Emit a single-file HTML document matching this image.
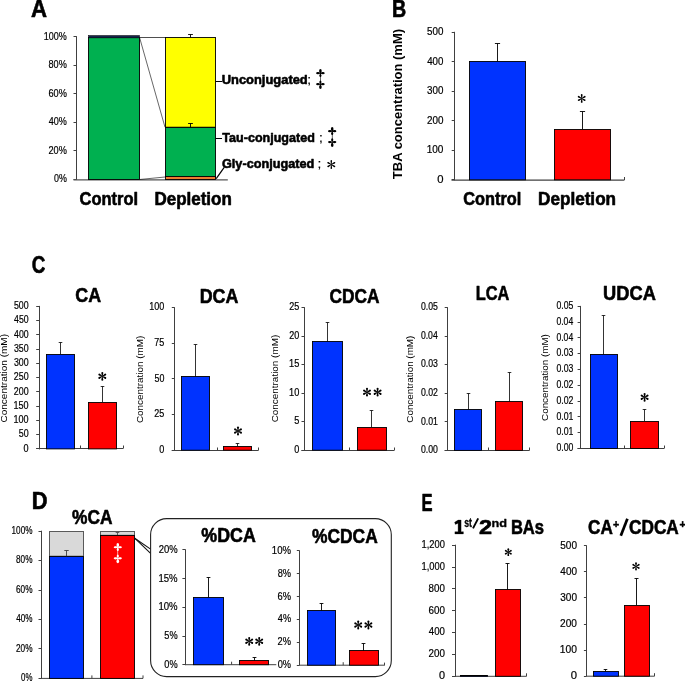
<!DOCTYPE html>
<html><head><meta charset="utf-8"><style>
html,body{margin:0;padding:0;background:#fff;}
svg{display:block;will-change:transform;}
text{font-family:"Liberation Sans",sans-serif;}
</style></head><body>
<svg width="685" height="682" viewBox="0 0 685 682">
<rect width="685" height="682" fill="#fff"/>
<text transform="translate(31.05,16.50) scale(0.9871,1.0401)" font-size="22.50" font-weight="bold" fill="#000" stroke="#000" stroke-width="0.6" stroke-linejoin="round">A</text>
<line x1="76.5" y1="36.2" x2="76.5" y2="180.0" stroke="#404040" stroke-width="1"/>
<line x1="73.5" y1="179.5" x2="76.5" y2="179.5" stroke="#404040" stroke-width="1"/>
<text transform="translate(53.95,182.30) scale(0.8642,1)" font-size="10.30" font-weight="normal" fill="#000" stroke="#000" stroke-width="0.2">0%</text>
<line x1="73.5" y1="150.5" x2="76.5" y2="150.5" stroke="#404040" stroke-width="1"/>
<text transform="translate(48.44,153.74) scale(0.8920,1)" font-size="10.30" font-weight="normal" fill="#000" stroke="#000" stroke-width="0.2">20%</text>
<line x1="73.5" y1="122.5" x2="76.5" y2="122.5" stroke="#404040" stroke-width="1"/>
<text transform="translate(48.69,125.18) scale(0.8795,1)" font-size="10.30" font-weight="normal" fill="#000" stroke="#000" stroke-width="0.2">40%</text>
<line x1="73.5" y1="93.5" x2="76.5" y2="93.5" stroke="#404040" stroke-width="1"/>
<text transform="translate(48.43,96.62) scale(0.8923,1)" font-size="10.30" font-weight="normal" fill="#000" stroke="#000" stroke-width="0.2">60%</text>
<line x1="73.5" y1="65.5" x2="76.5" y2="65.5" stroke="#404040" stroke-width="1"/>
<text transform="translate(48.50,68.06) scale(0.8889,1)" font-size="10.30" font-weight="normal" fill="#000" stroke="#000" stroke-width="0.2">80%</text>
<line x1="73.5" y1="36.5" x2="76.5" y2="36.5" stroke="#404040" stroke-width="1"/>
<text transform="translate(43.81,39.50) scale(0.8733,1)" font-size="10.30" font-weight="normal" fill="#000" stroke="#000" stroke-width="0.2">100%</text>
<line x1="73.5" y1="179.8" x2="227.8" y2="179.8" stroke="#555" stroke-width="1.3"/>
<line x1="139.6" y1="37.5" x2="165" y2="37.5" stroke="#222" stroke-width="0.8"/>
<line x1="139.6" y1="37.6" x2="165" y2="127.2" stroke="#000" stroke-width="0.6"/>
<line x1="139.6" y1="179.5" x2="165" y2="177.0" stroke="#000" stroke-width="0.6"/>
<rect x="88.50" y="37.50" width="51.00" height="142.00" fill="#00B050" stroke="#000" stroke-width="0.9"/>
<rect x="88.50" y="35.50" width="51.00" height="2.40" fill="#15244a" stroke="#000" stroke-width="0.5"/>
<rect x="165.50" y="37.50" width="50.00" height="89.70" fill="#FFFF00" stroke="#000" stroke-width="0.9"/>
<rect x="165.50" y="127.50" width="50.00" height="49.30" fill="#00B050" stroke="#000" stroke-width="0.9"/>
<rect x="165.50" y="176.50" width="50.00" height="3.00" fill="#ED7D31" stroke="#000" stroke-width="0.9"/>
<line x1="190.5" y1="37.4" x2="190.5" y2="34.5" stroke="#000" stroke-width="0.9"/>
<line x1="188.1" y1="34.5" x2="192.9" y2="34.5" stroke="#000" stroke-width="0.9"/>
<line x1="190.5" y1="127.2" x2="190.5" y2="123.5" stroke="#000" stroke-width="0.9"/>
<line x1="188.1" y1="123.5" x2="192.9" y2="123.5" stroke="#000" stroke-width="0.9"/>
<line x1="215.6" y1="81.5" x2="222.0" y2="81.5" stroke="#000" stroke-width="1.0"/>
<line x1="215.6" y1="138.5" x2="222.0" y2="138.5" stroke="#000" stroke-width="1.0"/>
<line x1="216.2" y1="178.6" x2="224.2" y2="167.3" stroke="#000" stroke-width="1.2"/>
<text transform="translate(221.72,84.30) scale(0.9500,1)" font-size="13.60" font-weight="bold" fill="#000" stroke="#000" stroke-width="0.6" stroke-linejoin="round">Unconjugated</text>
<text transform="translate(307.18,84.30) scale(1.0000,1)" font-size="13.60" font-weight="normal" fill="#000" stroke="#000" stroke-width="0.2">;</text>
<g fill="#000" stroke="none">
<rect x="319.95" y="70.00" width="0.90" height="4.70"/>
<rect x="319.95" y="83.70" width="0.90" height="4.30"/>
<rect x="320.10" y="73.20" width="0.60" height="11.00"/>
<ellipse cx="320.40" cy="70.90" rx="1.30" ry="2.00"/>
<ellipse cx="320.40" cy="87.10" rx="1.30" ry="2.00"/>
<ellipse cx="317.90" cy="73.20" rx="1.80" ry="1.10"/>
<ellipse cx="322.90" cy="73.20" rx="1.80" ry="1.10"/>
<ellipse cx="317.90" cy="84.20" rx="1.80" ry="1.10"/>
<ellipse cx="322.90" cy="84.20" rx="1.80" ry="1.10"/>
<ellipse cx="320.40" cy="75.50" rx="1.05" ry="1.50"/>
<ellipse cx="320.40" cy="81.90" rx="1.05" ry="1.50"/>
<rect x="317.20" y="72.70" width="6.40" height="1.00"/>
<rect x="317.20" y="83.70" width="6.40" height="1.00"/>
</g>
<text transform="translate(222.36,142.00) scale(0.9232,1)" font-size="13.60" font-weight="bold" fill="#000" stroke="#000" stroke-width="0.6" stroke-linejoin="round">Tau-conjugated</text>
<text transform="translate(318.98,142.00) scale(1.0000,1)" font-size="13.60" font-weight="normal" fill="#000" stroke="#000" stroke-width="0.2">;</text>
<g fill="#000" stroke="none">
<rect x="331.75" y="128.00" width="0.90" height="4.68"/>
<rect x="331.75" y="141.62" width="0.90" height="4.28"/>
<rect x="331.90" y="131.18" width="0.60" height="10.94"/>
<ellipse cx="332.20" cy="128.90" rx="1.30" ry="2.00"/>
<ellipse cx="332.20" cy="145.00" rx="1.30" ry="2.00"/>
<ellipse cx="329.80" cy="131.18" rx="1.80" ry="1.10"/>
<ellipse cx="334.60" cy="131.18" rx="1.80" ry="1.10"/>
<ellipse cx="329.80" cy="142.12" rx="1.80" ry="1.10"/>
<ellipse cx="334.60" cy="142.12" rx="1.80" ry="1.10"/>
<ellipse cx="332.20" cy="133.48" rx="1.05" ry="1.50"/>
<ellipse cx="332.20" cy="139.82" rx="1.05" ry="1.50"/>
<rect x="329.10" y="130.68" width="6.20" height="1.00"/>
<rect x="329.10" y="141.62" width="6.20" height="1.00"/>
</g>
<text transform="translate(221.98,167.80) scale(0.9341,1)" font-size="13.60" font-weight="bold" fill="#000" stroke="#000" stroke-width="0.6" stroke-linejoin="round">Gly-conjugated</text>
<text transform="translate(317.38,167.80) scale(1.0000,1)" font-size="13.60" font-weight="normal" fill="#000" stroke="#000" stroke-width="0.2">;</text>
<g fill="#000">
<path d="M331.60,164.60 L332.08,160.88 A0.78,0.78 0 1 0 330.52,160.88 L331.00,164.60 Z"/>
<path d="M331.45,164.86 L334.91,163.42 A0.78,0.78 0 1 0 334.13,162.06 L331.15,164.34 Z"/>
<path d="M331.15,164.86 L334.13,167.14 A0.78,0.78 0 1 0 334.91,165.78 L331.45,164.34 Z"/>
<path d="M331.00,164.60 L330.52,168.32 A0.78,0.78 0 1 0 332.08,168.32 L331.60,164.60 Z"/>
<path d="M331.15,164.34 L327.69,165.78 A0.78,0.78 0 1 0 328.47,167.14 L331.45,164.86 Z"/>
<path d="M331.45,164.34 L328.47,162.06 A0.78,0.78 0 1 0 327.69,163.42 L331.15,164.86 Z"/>
</g>
<text transform="translate(79.52,205.20) scale(0.9374,1)" font-size="17.60" font-weight="bold" fill="#000" stroke="#000" stroke-width="0.6" stroke-linejoin="round">Control</text>
<text transform="translate(154.46,205.20) scale(0.9652,1)" font-size="17.60" font-weight="bold" fill="#000" stroke="#000" stroke-width="0.6" stroke-linejoin="round">Depletion</text>
<text transform="translate(391.98,16.60) scale(0.8745,1.0401)" font-size="22.50" font-weight="bold" fill="#000" stroke="#000" stroke-width="0.6" stroke-linejoin="round">B</text>
<line x1="454.5" y1="31.799999999999997" x2="454.5" y2="180.3" stroke="#404040" stroke-width="1"/>
<line x1="451.7" y1="179.5" x2="454.5" y2="179.5" stroke="#404040" stroke-width="1"/>
<text transform="translate(437.16,182.56) scale(1.1075,1)" font-size="10.20" font-weight="normal" fill="#000" stroke="#000" stroke-width="0.2">0</text>
<line x1="451.7" y1="150.5" x2="454.5" y2="150.5" stroke="#404040" stroke-width="1"/>
<text transform="translate(426.63,153.06) scale(0.9847,1)" font-size="10.20" font-weight="normal" fill="#000" stroke="#000" stroke-width="0.2">100</text>
<line x1="451.7" y1="120.5" x2="454.5" y2="120.5" stroke="#404040" stroke-width="1"/>
<text transform="translate(426.90,123.56) scale(0.9685,1)" font-size="10.20" font-weight="normal" fill="#000" stroke="#000" stroke-width="0.2">200</text>
<line x1="451.7" y1="91.5" x2="454.5" y2="91.5" stroke="#404040" stroke-width="1"/>
<text transform="translate(427.03,94.06) scale(0.9611,1)" font-size="10.20" font-weight="normal" fill="#000" stroke="#000" stroke-width="0.2">300</text>
<line x1="451.7" y1="61.5" x2="454.5" y2="61.5" stroke="#404040" stroke-width="1"/>
<text transform="translate(427.18,64.56) scale(0.9520,1)" font-size="10.20" font-weight="normal" fill="#000" stroke="#000" stroke-width="0.2">400</text>
<line x1="451.7" y1="32.5" x2="454.5" y2="32.5" stroke="#404040" stroke-width="1"/>
<text transform="translate(427.01,35.06) scale(0.9623,1)" font-size="10.20" font-weight="normal" fill="#000" stroke="#000" stroke-width="0.2">500</text>
<line x1="451.5" y1="180.2" x2="624.2" y2="180.2" stroke="#404040" stroke-width="1.2"/>
<line x1="624.5" y1="180.2" x2="624.5" y2="177.0" stroke="#404040" stroke-width="1"/>
<rect x="469.50" y="61.50" width="56.00" height="118.30" fill="#0033FF" stroke="#000" stroke-width="0.9"/>
<line x1="497.5" y1="61.2" x2="497.5" y2="43.5" stroke="#000" stroke-width="0.9"/>
<line x1="494.9" y1="43.5" x2="500.1" y2="43.5" stroke="#000" stroke-width="0.9"/>
<rect x="554.50" y="129.50" width="56.00" height="50.30" fill="#FF0000" stroke="#000" stroke-width="0.9"/>
<line x1="582.5" y1="129.2" x2="582.5" y2="111.5" stroke="#000" stroke-width="0.9"/>
<line x1="579.9" y1="111.5" x2="585.1" y2="111.5" stroke="#000" stroke-width="0.9"/>
<g fill="#000">
<path d="M582.00,98.40 L582.58,94.88 A0.88,0.88 0 1 0 580.82,94.88 L581.40,98.40 Z"/>
<path d="M581.85,98.66 L585.19,97.41 A0.88,0.88 0 1 0 584.30,95.88 L581.55,98.14 Z"/>
<path d="M581.55,98.66 L584.30,100.92 A0.88,0.88 0 1 0 585.19,99.39 L581.85,98.14 Z"/>
<path d="M581.40,98.40 L580.82,101.92 A0.88,0.88 0 1 0 582.58,101.92 L582.00,98.40 Z"/>
<path d="M581.55,98.14 L578.21,99.39 A0.88,0.88 0 1 0 579.10,100.92 L581.85,98.66 Z"/>
<path d="M581.85,98.14 L579.10,95.88 A0.88,0.88 0 1 0 578.21,97.41 L581.55,98.66 Z"/>
</g>
<text transform="translate(402.00,179.15) rotate(-90) scale(0.9845,1)" font-size="13.20" font-weight="bold" fill="#000">TBA concentration (mM)</text>
<text transform="translate(463.33,205.00) scale(0.9275,1)" font-size="17.60" font-weight="bold" fill="#000" stroke="#000" stroke-width="0.6" stroke-linejoin="round">Control</text>
<text transform="translate(538.05,205.00) scale(0.9729,1)" font-size="17.60" font-weight="bold" fill="#000" stroke="#000" stroke-width="0.6" stroke-linejoin="round">Depletion</text>
<text transform="translate(31.73,273.46) scale(0.8361,1.0734)" font-size="22.50" font-weight="bold" fill="#000" stroke="#000" stroke-width="0.6" stroke-linejoin="round">C</text>
<text transform="translate(75.27,301.70) scale(0.8933,1)" font-size="20.00" font-weight="bold" fill="#000" stroke="#000" stroke-width="0.6" stroke-linejoin="round">CA</text>
<line x1="39.5" y1="305.9" x2="39.5" y2="449.4" stroke="#404040" stroke-width="1"/>
<line x1="36.2" y1="448.5" x2="39.5" y2="448.5" stroke="#404040" stroke-width="1"/>
<text transform="translate(23.59,451.59) scale(0.9100,1)" font-size="10.00" font-weight="normal" fill="#000" stroke="#000" stroke-width="0.2">0</text>
<line x1="36.2" y1="434.5" x2="39.5" y2="434.5" stroke="#404040" stroke-width="1"/>
<text transform="translate(18.74,437.34) scale(0.8904,1)" font-size="10.00" font-weight="normal" fill="#000" stroke="#000" stroke-width="0.2">50</text>
<line x1="36.2" y1="420.5" x2="39.5" y2="420.5" stroke="#404040" stroke-width="1"/>
<text transform="translate(13.56,423.09) scale(0.9046,1)" font-size="10.00" font-weight="normal" fill="#000" stroke="#000" stroke-width="0.2">100</text>
<line x1="36.2" y1="406.5" x2="39.5" y2="406.5" stroke="#404040" stroke-width="1"/>
<text transform="translate(13.56,408.84) scale(0.9046,1)" font-size="10.00" font-weight="normal" fill="#000" stroke="#000" stroke-width="0.2">150</text>
<line x1="36.2" y1="391.5" x2="39.5" y2="391.5" stroke="#404040" stroke-width="1"/>
<text transform="translate(13.80,394.59) scale(0.8897,1)" font-size="10.00" font-weight="normal" fill="#000" stroke="#000" stroke-width="0.2">200</text>
<line x1="36.2" y1="377.5" x2="39.5" y2="377.5" stroke="#404040" stroke-width="1"/>
<text transform="translate(13.80,380.34) scale(0.8897,1)" font-size="10.00" font-weight="normal" fill="#000" stroke="#000" stroke-width="0.2">250</text>
<line x1="36.2" y1="363.5" x2="39.5" y2="363.5" stroke="#404040" stroke-width="1"/>
<text transform="translate(13.91,366.09) scale(0.8829,1)" font-size="10.00" font-weight="normal" fill="#000" stroke="#000" stroke-width="0.2">300</text>
<line x1="36.2" y1="349.5" x2="39.5" y2="349.5" stroke="#404040" stroke-width="1"/>
<text transform="translate(13.91,351.84) scale(0.8829,1)" font-size="10.00" font-weight="normal" fill="#000" stroke="#000" stroke-width="0.2">350</text>
<line x1="36.2" y1="334.5" x2="39.5" y2="334.5" stroke="#404040" stroke-width="1"/>
<text transform="translate(14.05,337.59) scale(0.8746,1)" font-size="10.00" font-weight="normal" fill="#000" stroke="#000" stroke-width="0.2">400</text>
<line x1="36.2" y1="320.5" x2="39.5" y2="320.5" stroke="#404040" stroke-width="1"/>
<text transform="translate(14.05,323.34) scale(0.8746,1)" font-size="10.00" font-weight="normal" fill="#000" stroke="#000" stroke-width="0.2">450</text>
<line x1="36.2" y1="306.5" x2="39.5" y2="306.5" stroke="#404040" stroke-width="1"/>
<text transform="translate(13.90,309.09) scale(0.8840,1)" font-size="10.00" font-weight="normal" fill="#000" stroke="#000" stroke-width="0.2">500</text>
<line x1="36.2" y1="448.5" x2="123.2" y2="448.5" stroke="#404040" stroke-width="1.1"/>
<line x1="80.5" y1="448.5" x2="80.5" y2="445.5" stroke="#404040" stroke-width="1"/>
<line x1="123.5" y1="448.5" x2="123.5" y2="445.5" stroke="#404040" stroke-width="1"/>
<rect x="46.50" y="354.50" width="28.00" height="94.40" fill="#0033FF" stroke="#000" stroke-width="0.9"/>
<line x1="60.5" y1="354.1" x2="60.5" y2="342.5" stroke="#000" stroke-width="0.8"/>
<line x1="58.7" y1="342.5" x2="62.3" y2="342.5" stroke="#000" stroke-width="0.8"/>
<rect x="88.50" y="402.50" width="28.00" height="46.40" fill="#FF0000" stroke="#000" stroke-width="0.9"/>
<line x1="102.5" y1="402.0" x2="102.5" y2="386.5" stroke="#000" stroke-width="0.8"/>
<line x1="100.7" y1="386.5" x2="104.3" y2="386.5" stroke="#000" stroke-width="0.8"/>
<text transform="translate(6.60,422.51) rotate(-90) scale(1.1271,1)" font-size="8.90" font-weight="normal" fill="#000">Concentration (mM)</text>
<g fill="#000">
<path d="M102.60,376.30 L103.31,372.91 A1.01,1.01 0 1 0 101.29,372.91 L102.00,376.30 Z"/>
<path d="M102.45,376.56 L105.74,375.49 A1.01,1.01 0 1 0 104.73,373.73 L102.15,376.04 Z"/>
<path d="M102.15,376.56 L104.73,378.87 A1.01,1.01 0 1 0 105.74,377.11 L102.45,376.04 Z"/>
<path d="M102.00,376.30 L101.29,379.69 A1.01,1.01 0 1 0 103.31,379.69 L102.60,376.30 Z"/>
<path d="M102.15,376.04 L98.86,377.11 A1.01,1.01 0 1 0 99.87,378.87 L102.45,376.56 Z"/>
<path d="M102.45,376.04 L99.87,373.73 A1.01,1.01 0 1 0 98.86,375.49 L102.15,376.56 Z"/>
</g>
<text transform="translate(199.70,303.20) scale(0.8947,1)" font-size="20.00" font-weight="bold" fill="#000" stroke="#000" stroke-width="0.6" stroke-linejoin="round">DCA</text>
<line x1="174.5" y1="307.2" x2="174.5" y2="450.7" stroke="#404040" stroke-width="1"/>
<line x1="171.79999999999998" y1="450.5" x2="174.5" y2="450.5" stroke="#404040" stroke-width="1"/>
<text transform="translate(159.29,452.89) scale(0.9100,1)" font-size="10.00" font-weight="normal" fill="#000" stroke="#000" stroke-width="0.2">0</text>
<line x1="171.79999999999998" y1="414.5" x2="174.5" y2="414.5" stroke="#404040" stroke-width="1"/>
<text transform="translate(154.35,417.26) scale(0.9019,1)" font-size="10.00" font-weight="normal" fill="#000" stroke="#000" stroke-width="0.2">25</text>
<line x1="171.79999999999998" y1="378.5" x2="174.5" y2="378.5" stroke="#404040" stroke-width="1"/>
<text transform="translate(154.44,381.64) scale(0.8904,1)" font-size="10.00" font-weight="normal" fill="#000" stroke="#000" stroke-width="0.2">50</text>
<line x1="171.79999999999998" y1="343.5" x2="174.5" y2="343.5" stroke="#404040" stroke-width="1"/>
<text transform="translate(154.34,346.01) scale(0.9028,1)" font-size="10.00" font-weight="normal" fill="#000" stroke="#000" stroke-width="0.2">75</text>
<line x1="171.79999999999998" y1="307.5" x2="174.5" y2="307.5" stroke="#404040" stroke-width="1"/>
<text transform="translate(149.26,310.39) scale(0.9046,1)" font-size="10.00" font-weight="normal" fill="#000" stroke="#000" stroke-width="0.2">100</text>
<line x1="171.79999999999998" y1="450.5" x2="258.3" y2="450.5" stroke="#404040" stroke-width="1.1"/>
<line x1="217.5" y1="450.5" x2="217.5" y2="447.5" stroke="#404040" stroke-width="1"/>
<line x1="258.5" y1="450.5" x2="258.5" y2="447.5" stroke="#404040" stroke-width="1"/>
<rect x="181.50" y="376.50" width="28.00" height="73.70" fill="#0033FF" stroke="#000" stroke-width="0.9"/>
<line x1="195.5" y1="376.4" x2="195.5" y2="344.5" stroke="#000" stroke-width="0.8"/>
<line x1="193.7" y1="344.5" x2="197.3" y2="344.5" stroke="#000" stroke-width="0.8"/>
<rect x="223.50" y="446.50" width="28.00" height="3.70" fill="#FF0000" stroke="#000" stroke-width="0.9"/>
<line x1="237.5" y1="446.4" x2="237.5" y2="443.5" stroke="#000" stroke-width="0.8"/>
<line x1="235.7" y1="443.5" x2="239.3" y2="443.5" stroke="#000" stroke-width="0.8"/>
<text transform="translate(143.00,423.10) rotate(-90) scale(1.1155,1)" font-size="8.90" font-weight="normal" fill="#000">Concentration (mM)</text>
<g fill="#000">
<path d="M238.30,431.00 L239.01,427.61 A1.01,1.01 0 1 0 236.99,427.61 L237.70,431.00 Z"/>
<path d="M238.15,431.26 L241.44,430.19 A1.01,1.01 0 1 0 240.43,428.43 L237.85,430.74 Z"/>
<path d="M237.85,431.26 L240.43,433.57 A1.01,1.01 0 1 0 241.44,431.81 L238.15,430.74 Z"/>
<path d="M237.70,431.00 L236.99,434.39 A1.01,1.01 0 1 0 239.01,434.39 L238.30,431.00 Z"/>
<path d="M237.85,430.74 L234.56,431.81 A1.01,1.01 0 1 0 235.57,433.57 L238.15,431.26 Z"/>
<path d="M238.15,430.74 L235.57,428.43 A1.01,1.01 0 1 0 234.56,430.19 L237.85,431.26 Z"/>
</g>
<text transform="translate(329.49,303.20) scale(0.8666,1)" font-size="20.00" font-weight="bold" fill="#000" stroke="#000" stroke-width="0.6" stroke-linejoin="round">CDCA</text>
<line x1="304.5" y1="307.2" x2="304.5" y2="450.7" stroke="#404040" stroke-width="1"/>
<line x1="301.5" y1="450.5" x2="304.5" y2="450.5" stroke="#404040" stroke-width="1"/>
<text transform="translate(294.29,452.89) scale(0.9100,1)" font-size="10.00" font-weight="normal" fill="#000" stroke="#000" stroke-width="0.2">0</text>
<line x1="301.5" y1="421.5" x2="304.5" y2="421.5" stroke="#404040" stroke-width="1"/>
<text transform="translate(294.28,424.39) scale(0.9175,1)" font-size="10.00" font-weight="normal" fill="#000" stroke="#000" stroke-width="0.2">5</text>
<line x1="301.5" y1="393.5" x2="304.5" y2="393.5" stroke="#404040" stroke-width="1"/>
<text transform="translate(289.10,395.89) scale(0.9227,1)" font-size="10.00" font-weight="normal" fill="#000" stroke="#000" stroke-width="0.2">10</text>
<line x1="301.5" y1="364.5" x2="304.5" y2="364.5" stroke="#404040" stroke-width="1"/>
<text transform="translate(289.10,367.39) scale(0.9254,1)" font-size="10.00" font-weight="normal" fill="#000" stroke="#000" stroke-width="0.2">15</text>
<line x1="301.5" y1="336.5" x2="304.5" y2="336.5" stroke="#404040" stroke-width="1"/>
<text transform="translate(289.35,338.89) scale(0.8994,1)" font-size="10.00" font-weight="normal" fill="#000" stroke="#000" stroke-width="0.2">20</text>
<line x1="301.5" y1="307.5" x2="304.5" y2="307.5" stroke="#404040" stroke-width="1"/>
<text transform="translate(289.35,310.39) scale(0.9019,1)" font-size="10.00" font-weight="normal" fill="#000" stroke="#000" stroke-width="0.2">25</text>
<line x1="301.5" y1="450.5" x2="394.1" y2="450.5" stroke="#404040" stroke-width="1.1"/>
<line x1="349.5" y1="450.5" x2="349.5" y2="447.5" stroke="#404040" stroke-width="1"/>
<line x1="394.5" y1="450.5" x2="394.5" y2="447.5" stroke="#404040" stroke-width="1"/>
<rect x="312.50" y="341.50" width="30.00" height="108.70" fill="#0033FF" stroke="#000" stroke-width="0.9"/>
<line x1="327.5" y1="341.3" x2="327.5" y2="322.5" stroke="#000" stroke-width="0.8"/>
<line x1="325.7" y1="322.5" x2="329.3" y2="322.5" stroke="#000" stroke-width="0.8"/>
<rect x="357.50" y="427.50" width="29.00" height="22.70" fill="#FF0000" stroke="#000" stroke-width="0.9"/>
<line x1="371.5" y1="427.1" x2="371.5" y2="410.5" stroke="#000" stroke-width="0.8"/>
<line x1="369.7" y1="410.5" x2="373.3" y2="410.5" stroke="#000" stroke-width="0.8"/>
<text transform="translate(277.80,422.30) rotate(-90) scale(1.1142,1)" font-size="8.90" font-weight="normal" fill="#000">Concentration (mM)</text>
<g fill="#000">
<path d="M367.30,392.20 L368.01,388.81 A1.01,1.01 0 1 0 365.99,388.81 L366.70,392.20 Z"/>
<path d="M367.15,392.46 L370.44,391.39 A1.01,1.01 0 1 0 369.43,389.63 L366.85,391.94 Z"/>
<path d="M366.85,392.46 L369.43,394.77 A1.01,1.01 0 1 0 370.44,393.01 L367.15,391.94 Z"/>
<path d="M366.70,392.20 L365.99,395.59 A1.01,1.01 0 1 0 368.01,395.59 L367.30,392.20 Z"/>
<path d="M366.85,391.94 L363.56,393.01 A1.01,1.01 0 1 0 364.57,394.77 L367.15,392.46 Z"/>
<path d="M367.15,391.94 L364.57,389.63 A1.01,1.01 0 1 0 363.56,391.39 L366.85,392.46 Z"/>
</g>
<g fill="#000">
<path d="M377.90,392.20 L378.61,388.81 A1.01,1.01 0 1 0 376.59,388.81 L377.30,392.20 Z"/>
<path d="M377.75,392.46 L381.04,391.39 A1.01,1.01 0 1 0 380.03,389.63 L377.45,391.94 Z"/>
<path d="M377.45,392.46 L380.03,394.77 A1.01,1.01 0 1 0 381.04,393.01 L377.75,391.94 Z"/>
<path d="M377.30,392.20 L376.59,395.59 A1.01,1.01 0 1 0 378.61,395.59 L377.90,392.20 Z"/>
<path d="M377.45,391.94 L374.16,393.01 A1.01,1.01 0 1 0 375.17,394.77 L377.75,392.46 Z"/>
<path d="M377.75,391.94 L375.17,389.63 A1.01,1.01 0 1 0 374.16,391.39 L377.45,392.46 Z"/>
</g>
<text transform="translate(475.81,300.00) scale(0.8181,1)" font-size="20.00" font-weight="bold" fill="#000" stroke="#000" stroke-width="0.6" stroke-linejoin="round">LCA</text>
<line x1="447.5" y1="307.2" x2="447.5" y2="450.9" stroke="#404040" stroke-width="1"/>
<line x1="444.7" y1="450.5" x2="447.5" y2="450.5" stroke="#404040" stroke-width="1"/>
<text transform="translate(420.91,453.09) scale(0.8698,1)" font-size="10.00" font-weight="normal" fill="#000" stroke="#000" stroke-width="0.2">0.00</text>
<line x1="444.7" y1="421.5" x2="447.5" y2="421.5" stroke="#404040" stroke-width="1"/>
<text transform="translate(420.91,424.55) scale(0.8744,1)" font-size="10.00" font-weight="normal" fill="#000" stroke="#000" stroke-width="0.2">0.01</text>
<line x1="444.7" y1="393.5" x2="447.5" y2="393.5" stroke="#404040" stroke-width="1"/>
<text transform="translate(420.91,396.01) scale(0.8751,1)" font-size="10.00" font-weight="normal" fill="#000" stroke="#000" stroke-width="0.2">0.02</text>
<line x1="444.7" y1="364.5" x2="447.5" y2="364.5" stroke="#404040" stroke-width="1"/>
<text transform="translate(420.91,367.47) scale(0.8721,1)" font-size="10.00" font-weight="normal" fill="#000" stroke="#000" stroke-width="0.2">0.03</text>
<line x1="444.7" y1="336.5" x2="447.5" y2="336.5" stroke="#404040" stroke-width="1"/>
<text transform="translate(420.91,338.93) scale(0.8653,1)" font-size="10.00" font-weight="normal" fill="#000" stroke="#000" stroke-width="0.2">0.04</text>
<line x1="444.7" y1="307.5" x2="447.5" y2="307.5" stroke="#404040" stroke-width="1"/>
<text transform="translate(420.91,310.39) scale(0.8712,1)" font-size="10.00" font-weight="normal" fill="#000" stroke="#000" stroke-width="0.2">0.05</text>
<line x1="444.7" y1="450.5" x2="529.4" y2="450.5" stroke="#404040" stroke-width="1.1"/>
<line x1="488.5" y1="450.5" x2="488.5" y2="447.5" stroke="#404040" stroke-width="1"/>
<line x1="529.5" y1="450.5" x2="529.5" y2="447.5" stroke="#404040" stroke-width="1"/>
<rect x="454.50" y="409.50" width="27.00" height="40.90" fill="#0033FF" stroke="#000" stroke-width="0.9"/>
<line x1="468.5" y1="409.4" x2="468.5" y2="393.5" stroke="#000" stroke-width="0.8"/>
<line x1="466.7" y1="393.5" x2="470.3" y2="393.5" stroke="#000" stroke-width="0.8"/>
<rect x="495.50" y="401.50" width="27.00" height="48.90" fill="#FF0000" stroke="#000" stroke-width="0.9"/>
<line x1="509.5" y1="401.5" x2="509.5" y2="372.5" stroke="#000" stroke-width="0.8"/>
<line x1="507.7" y1="372.5" x2="511.3" y2="372.5" stroke="#000" stroke-width="0.8"/>
<text transform="translate(413.00,422.70) rotate(-90) scale(1.1103,1)" font-size="8.90" font-weight="normal" fill="#000">Concentration (mM)</text>
<text transform="translate(603.10,300.00) scale(0.9136,1)" font-size="20.00" font-weight="bold" fill="#000" stroke="#000" stroke-width="0.6" stroke-linejoin="round">UDCA</text>
<line x1="580.5" y1="305.9" x2="580.5" y2="449.0" stroke="#404040" stroke-width="1"/>
<line x1="577.6" y1="448.5" x2="580.5" y2="448.5" stroke="#404040" stroke-width="1"/>
<text transform="translate(556.41,451.19) scale(0.8698,1)" font-size="10.00" font-weight="normal" fill="#000" stroke="#000" stroke-width="0.2">0.00</text>
<line x1="577.6" y1="432.5" x2="580.5" y2="432.5" stroke="#404040" stroke-width="1"/>
<text transform="translate(556.41,435.40) scale(0.8744,1)" font-size="10.00" font-weight="normal" fill="#000" stroke="#000" stroke-width="0.2">0.01</text>
<line x1="577.6" y1="416.5" x2="580.5" y2="416.5" stroke="#404040" stroke-width="1"/>
<text transform="translate(556.41,419.61) scale(0.8744,1)" font-size="10.00" font-weight="normal" fill="#000" stroke="#000" stroke-width="0.2">0.01</text>
<line x1="577.6" y1="401.5" x2="580.5" y2="401.5" stroke="#404040" stroke-width="1"/>
<text transform="translate(556.41,403.82) scale(0.8751,1)" font-size="10.00" font-weight="normal" fill="#000" stroke="#000" stroke-width="0.2">0.02</text>
<line x1="577.6" y1="385.5" x2="580.5" y2="385.5" stroke="#404040" stroke-width="1"/>
<text transform="translate(556.41,388.03) scale(0.8751,1)" font-size="10.00" font-weight="normal" fill="#000" stroke="#000" stroke-width="0.2">0.02</text>
<line x1="577.6" y1="369.5" x2="580.5" y2="369.5" stroke="#404040" stroke-width="1"/>
<text transform="translate(556.41,372.25) scale(0.8721,1)" font-size="10.00" font-weight="normal" fill="#000" stroke="#000" stroke-width="0.2">0.03</text>
<line x1="577.6" y1="353.5" x2="580.5" y2="353.5" stroke="#404040" stroke-width="1"/>
<text transform="translate(556.41,356.46) scale(0.8721,1)" font-size="10.00" font-weight="normal" fill="#000" stroke="#000" stroke-width="0.2">0.03</text>
<line x1="577.6" y1="337.5" x2="580.5" y2="337.5" stroke="#404040" stroke-width="1"/>
<text transform="translate(556.41,340.67) scale(0.8653,1)" font-size="10.00" font-weight="normal" fill="#000" stroke="#000" stroke-width="0.2">0.04</text>
<line x1="577.6" y1="322.5" x2="580.5" y2="322.5" stroke="#404040" stroke-width="1"/>
<text transform="translate(556.41,324.88) scale(0.8653,1)" font-size="10.00" font-weight="normal" fill="#000" stroke="#000" stroke-width="0.2">0.04</text>
<line x1="577.6" y1="306.5" x2="580.5" y2="306.5" stroke="#404040" stroke-width="1"/>
<text transform="translate(556.41,309.09) scale(0.8712,1)" font-size="10.00" font-weight="normal" fill="#000" stroke="#000" stroke-width="0.2">0.05</text>
<line x1="577.6" y1="448.5" x2="664.1" y2="448.5" stroke="#404040" stroke-width="1.1"/>
<line x1="624.5" y1="448.5" x2="624.5" y2="445.5" stroke="#404040" stroke-width="1"/>
<line x1="664.5" y1="448.5" x2="664.5" y2="445.5" stroke="#404040" stroke-width="1"/>
<rect x="590.50" y="354.50" width="27.00" height="94.00" fill="#0033FF" stroke="#000" stroke-width="0.9"/>
<line x1="603.5" y1="354.5" x2="603.5" y2="315.5" stroke="#000" stroke-width="0.8"/>
<line x1="601.7" y1="315.5" x2="605.3" y2="315.5" stroke="#000" stroke-width="0.8"/>
<rect x="630.50" y="421.50" width="28.00" height="27.00" fill="#FF0000" stroke="#000" stroke-width="0.9"/>
<line x1="644.5" y1="421.3" x2="644.5" y2="409.5" stroke="#000" stroke-width="0.8"/>
<line x1="642.7" y1="409.5" x2="646.3" y2="409.5" stroke="#000" stroke-width="0.8"/>
<text transform="translate(547.90,420.90) rotate(-90) scale(1.1052,1)" font-size="8.90" font-weight="normal" fill="#000">Concentration (mM)</text>
<g fill="#000">
<path d="M644.90,397.30 L645.61,393.91 A1.01,1.01 0 1 0 643.59,393.91 L644.30,397.30 Z"/>
<path d="M644.75,397.56 L648.04,396.49 A1.01,1.01 0 1 0 647.03,394.73 L644.45,397.04 Z"/>
<path d="M644.45,397.56 L647.03,399.87 A1.01,1.01 0 1 0 648.04,398.11 L644.75,397.04 Z"/>
<path d="M644.30,397.30 L643.59,400.69 A1.01,1.01 0 1 0 645.61,400.69 L644.90,397.30 Z"/>
<path d="M644.45,397.04 L641.16,398.11 A1.01,1.01 0 1 0 642.17,399.87 L644.75,397.56 Z"/>
<path d="M644.75,397.04 L642.17,394.73 A1.01,1.01 0 1 0 641.16,396.49 L644.45,397.56 Z"/>
</g>
<text transform="translate(31.74,509.40) scale(0.9711,1.0465)" font-size="22.50" font-weight="bold" fill="#000" stroke="#000" stroke-width="0.6" stroke-linejoin="round">D</text>
<text transform="translate(71.97,524.00) scale(0.8676,1)" font-size="20.00" font-weight="bold" fill="#000" stroke="#000" stroke-width="0.6" stroke-linejoin="round">%CA</text>
<line x1="41.5" y1="530.7" x2="41.5" y2="678.9" stroke="#404040" stroke-width="1"/>
<line x1="38.5" y1="678.5" x2="41.5" y2="678.5" stroke="#404040" stroke-width="1"/>
<text transform="translate(21.09,681.16) scale(0.7725,1)" font-size="10.20" font-weight="normal" fill="#000" stroke="#000" stroke-width="0.2">0%</text>
<line x1="38.5" y1="648.5" x2="41.5" y2="648.5" stroke="#404040" stroke-width="1"/>
<text transform="translate(15.99,651.72) scale(0.8087,1)" font-size="10.20" font-weight="normal" fill="#000" stroke="#000" stroke-width="0.2">20%</text>
<line x1="38.5" y1="619.5" x2="41.5" y2="619.5" stroke="#404040" stroke-width="1"/>
<text transform="translate(16.21,622.28) scale(0.7973,1)" font-size="10.20" font-weight="normal" fill="#000" stroke="#000" stroke-width="0.2">40%</text>
<line x1="38.5" y1="590.5" x2="41.5" y2="590.5" stroke="#404040" stroke-width="1"/>
<text transform="translate(15.98,592.84) scale(0.8089,1)" font-size="10.20" font-weight="normal" fill="#000" stroke="#000" stroke-width="0.2">60%</text>
<line x1="38.5" y1="560.5" x2="41.5" y2="560.5" stroke="#404040" stroke-width="1"/>
<text transform="translate(16.04,563.40) scale(0.8058,1)" font-size="10.20" font-weight="normal" fill="#000" stroke="#000" stroke-width="0.2">80%</text>
<line x1="38.5" y1="531.5" x2="41.5" y2="531.5" stroke="#404040" stroke-width="1"/>
<text transform="translate(11.58,533.96) scale(0.8017,1)" font-size="10.20" font-weight="normal" fill="#000" stroke="#000" stroke-width="0.2">100%</text>
<line x1="41.5" y1="678.4" x2="143.0" y2="678.4" stroke="#404040" stroke-width="1"/>
<line x1="91.9" y1="678.4" x2="91.9" y2="675.4" stroke="#404040" stroke-width="1"/>
<line x1="143.0" y1="678.4" x2="143.0" y2="675.4" stroke="#404040" stroke-width="1"/>
<rect x="49.50" y="531.50" width="34.00" height="24.70" fill="#D9D9D9" stroke="#595959" stroke-width="1.0"/>
<rect x="49.50" y="556.50" width="34.00" height="121.90" fill="#0033FF" stroke="#000" stroke-width="0.9"/>
<line x1="66.5" y1="556.2" x2="66.5" y2="550.5" stroke="#404040" stroke-width="0.9"/>
<line x1="64.3" y1="550.5" x2="68.7" y2="550.5" stroke="#404040" stroke-width="0.9"/>
<rect x="100.50" y="531.50" width="34.00" height="3.80" fill="#D9D9D9" stroke="#595959" stroke-width="1.0"/>
<rect x="100.50" y="535.50" width="34.00" height="142.90" fill="#FF0000" stroke="#000" stroke-width="0.9"/>
<line x1="117.5" y1="535.1" x2="117.5" y2="532.5" stroke="#404040" stroke-width="0.8"/>
<line x1="115.7" y1="532.5" x2="119.3" y2="532.5" stroke="#404040" stroke-width="0.8"/>
<g fill="#fff" stroke="none">
<rect x="117.35" y="544.00" width="0.90" height="4.74"/>
<rect x="117.35" y="557.85" width="0.90" height="4.35"/>
<rect x="117.50" y="547.24" width="0.60" height="11.11"/>
<ellipse cx="117.80" cy="544.90" rx="1.30" ry="2.00"/>
<ellipse cx="117.80" cy="561.30" rx="1.30" ry="2.00"/>
<ellipse cx="115.50" cy="547.24" rx="1.80" ry="1.10"/>
<ellipse cx="120.10" cy="547.24" rx="1.80" ry="1.10"/>
<ellipse cx="115.50" cy="558.35" rx="1.80" ry="1.10"/>
<ellipse cx="120.10" cy="558.35" rx="1.80" ry="1.10"/>
<ellipse cx="117.80" cy="549.54" rx="1.05" ry="1.50"/>
<ellipse cx="117.80" cy="556.05" rx="1.05" ry="1.50"/>
<rect x="114.80" y="546.74" width="6.00" height="1.00"/>
<rect x="114.80" y="557.85" width="6.00" height="1.00"/>
</g>
<line x1="134.7" y1="538.2" x2="150.6" y2="549.1" stroke="#111" stroke-width="1.1"/>
<line x1="134.7" y1="538.2" x2="150.6" y2="553.3" stroke="#111" stroke-width="1.1"/>
<rect x="150.6" y="518.6" width="240.7" height="158.0" rx="16" ry="16" fill="none" stroke="#222" stroke-width="1.1"/>
<text transform="translate(201.36,542.30) scale(0.8904,1)" font-size="20.00" font-weight="bold" fill="#000" stroke="#000" stroke-width="0.6" stroke-linejoin="round">%DCA</text>
<line x1="185.5" y1="549.4" x2="185.5" y2="665.2" stroke="#404040" stroke-width="1"/>
<line x1="182.4" y1="664.5" x2="185.5" y2="664.5" stroke="#404040" stroke-width="1"/>
<text transform="translate(164.29,667.60) scale(0.8707,1)" font-size="10.60" font-weight="normal" fill="#000" stroke="#000" stroke-width="0.2">0%</text>
<line x1="182.4" y1="636.5" x2="185.5" y2="636.5" stroke="#404040" stroke-width="1"/>
<text transform="translate(164.28,638.90) scale(0.8713,1)" font-size="10.60" font-weight="normal" fill="#000" stroke="#000" stroke-width="0.2">5%</text>
<line x1="182.4" y1="607.5" x2="185.5" y2="607.5" stroke="#404040" stroke-width="1"/>
<text transform="translate(158.47,610.20) scale(0.9036,1)" font-size="10.60" font-weight="normal" fill="#000" stroke="#000" stroke-width="0.2">10%</text>
<line x1="182.4" y1="578.5" x2="185.5" y2="578.5" stroke="#404040" stroke-width="1"/>
<text transform="translate(158.47,581.50) scale(0.9036,1)" font-size="10.60" font-weight="normal" fill="#000" stroke="#000" stroke-width="0.2">15%</text>
<line x1="182.4" y1="549.5" x2="185.5" y2="549.5" stroke="#404040" stroke-width="1"/>
<text transform="translate(158.72,552.80) scale(0.8914,1)" font-size="10.60" font-weight="normal" fill="#000" stroke="#000" stroke-width="0.2">20%</text>
<line x1="185.4" y1="664.7" x2="276.3" y2="664.7" stroke="#404040" stroke-width="1"/>
<line x1="231.6" y1="664.7" x2="231.6" y2="661.7" stroke="#404040" stroke-width="1"/>
<rect x="193.50" y="597.50" width="30.00" height="67.20" fill="#0033FF" stroke="#000" stroke-width="0.9"/>
<line x1="208.5" y1="597.6" x2="208.5" y2="577.5" stroke="#000" stroke-width="0.9"/>
<line x1="206.6" y1="577.5" x2="210.4" y2="577.5" stroke="#000" stroke-width="0.9"/>
<rect x="239.50" y="660.50" width="29.00" height="4.20" fill="#FF0000" stroke="#000" stroke-width="0.9"/>
<line x1="254.5" y1="660.7" x2="254.5" y2="657.5" stroke="#000" stroke-width="0.9"/>
<line x1="252.6" y1="657.5" x2="256.4" y2="657.5" stroke="#000" stroke-width="0.9"/>
<g fill="#000">
<path d="M249.50,641.30 L250.21,637.91 A1.01,1.01 0 1 0 248.19,637.91 L248.90,641.30 Z"/>
<path d="M249.35,641.56 L252.64,640.49 A1.01,1.01 0 1 0 251.63,638.73 L249.05,641.04 Z"/>
<path d="M249.05,641.56 L251.63,643.87 A1.01,1.01 0 1 0 252.64,642.11 L249.35,641.04 Z"/>
<path d="M248.90,641.30 L248.19,644.69 A1.01,1.01 0 1 0 250.21,644.69 L249.50,641.30 Z"/>
<path d="M249.05,641.04 L245.76,642.11 A1.01,1.01 0 1 0 246.77,643.87 L249.35,641.56 Z"/>
<path d="M249.35,641.04 L246.77,638.73 A1.01,1.01 0 1 0 245.76,640.49 L249.05,641.56 Z"/>
</g>
<g fill="#000">
<path d="M259.50,641.30 L260.21,637.91 A1.01,1.01 0 1 0 258.19,637.91 L258.90,641.30 Z"/>
<path d="M259.35,641.56 L262.64,640.49 A1.01,1.01 0 1 0 261.63,638.73 L259.05,641.04 Z"/>
<path d="M259.05,641.56 L261.63,643.87 A1.01,1.01 0 1 0 262.64,642.11 L259.35,641.04 Z"/>
<path d="M258.90,641.30 L258.19,644.69 A1.01,1.01 0 1 0 260.21,644.69 L259.50,641.30 Z"/>
<path d="M259.05,641.04 L255.76,642.11 A1.01,1.01 0 1 0 256.77,643.87 L259.35,641.56 Z"/>
<path d="M259.35,641.04 L256.77,638.73 A1.01,1.01 0 1 0 255.76,640.49 L259.05,641.56 Z"/>
</g>
<text transform="translate(311.97,542.80) scale(0.8708,1)" font-size="20.00" font-weight="bold" fill="#000" stroke="#000" stroke-width="0.6" stroke-linejoin="round">%CDCA</text>
<line x1="299.5" y1="550.4" x2="299.5" y2="665.7" stroke="#404040" stroke-width="1"/>
<line x1="296.8" y1="665.5" x2="299.5" y2="665.5" stroke="#404040" stroke-width="1"/>
<text transform="translate(277.69,668.10) scale(0.8707,1)" font-size="10.60" font-weight="normal" fill="#000" stroke="#000" stroke-width="0.2">0%</text>
<line x1="296.8" y1="642.5" x2="299.5" y2="642.5" stroke="#404040" stroke-width="1"/>
<text transform="translate(277.58,645.24) scale(0.8779,1)" font-size="10.60" font-weight="normal" fill="#000" stroke="#000" stroke-width="0.2">2%</text>
<line x1="296.8" y1="619.5" x2="299.5" y2="619.5" stroke="#404040" stroke-width="1"/>
<text transform="translate(277.84,622.38) scale(0.8606,1)" font-size="10.60" font-weight="normal" fill="#000" stroke="#000" stroke-width="0.2">4%</text>
<line x1="296.8" y1="596.5" x2="299.5" y2="596.5" stroke="#404040" stroke-width="1"/>
<text transform="translate(277.58,599.52) scale(0.8782,1)" font-size="10.60" font-weight="normal" fill="#000" stroke="#000" stroke-width="0.2">6%</text>
<line x1="296.8" y1="573.5" x2="299.5" y2="573.5" stroke="#404040" stroke-width="1"/>
<text transform="translate(277.65,576.66) scale(0.8735,1)" font-size="10.60" font-weight="normal" fill="#000" stroke="#000" stroke-width="0.2">8%</text>
<line x1="296.8" y1="550.5" x2="299.5" y2="550.5" stroke="#404040" stroke-width="1"/>
<text transform="translate(271.87,553.80) scale(0.9036,1)" font-size="10.60" font-weight="normal" fill="#000" stroke="#000" stroke-width="0.2">10%</text>
<line x1="299.8" y1="665.2" x2="384.8" y2="665.2" stroke="#404040" stroke-width="1"/>
<line x1="343.2" y1="665.2" x2="343.2" y2="662.2" stroke="#404040" stroke-width="1"/>
<rect x="307.50" y="610.50" width="28.00" height="54.70" fill="#0033FF" stroke="#000" stroke-width="0.9"/>
<line x1="321.5" y1="610.5" x2="321.5" y2="603.5" stroke="#000" stroke-width="0.9"/>
<line x1="319.6" y1="603.5" x2="323.4" y2="603.5" stroke="#000" stroke-width="0.9"/>
<rect x="349.50" y="650.50" width="29.00" height="14.70" fill="#FF0000" stroke="#000" stroke-width="0.9"/>
<line x1="363.5" y1="650.8" x2="363.5" y2="643.5" stroke="#000" stroke-width="0.9"/>
<line x1="361.6" y1="643.5" x2="365.4" y2="643.5" stroke="#000" stroke-width="0.9"/>
<g fill="#000">
<path d="M358.50,625.00 L359.21,621.61 A1.01,1.01 0 1 0 357.19,621.61 L357.90,625.00 Z"/>
<path d="M358.35,625.26 L361.64,624.19 A1.01,1.01 0 1 0 360.63,622.43 L358.05,624.74 Z"/>
<path d="M358.05,625.26 L360.63,627.57 A1.01,1.01 0 1 0 361.64,625.81 L358.35,624.74 Z"/>
<path d="M357.90,625.00 L357.19,628.39 A1.01,1.01 0 1 0 359.21,628.39 L358.50,625.00 Z"/>
<path d="M358.05,624.74 L354.76,625.81 A1.01,1.01 0 1 0 355.77,627.57 L358.35,625.26 Z"/>
<path d="M358.35,624.74 L355.77,622.43 A1.01,1.01 0 1 0 354.76,624.19 L358.05,625.26 Z"/>
</g>
<g fill="#000">
<path d="M368.70,625.00 L369.41,621.61 A1.01,1.01 0 1 0 367.39,621.61 L368.10,625.00 Z"/>
<path d="M368.55,625.26 L371.84,624.19 A1.01,1.01 0 1 0 370.83,622.43 L368.25,624.74 Z"/>
<path d="M368.25,625.26 L370.83,627.57 A1.01,1.01 0 1 0 371.84,625.81 L368.55,624.74 Z"/>
<path d="M368.10,625.00 L367.39,628.39 A1.01,1.01 0 1 0 369.41,628.39 L368.70,625.00 Z"/>
<path d="M368.25,624.74 L364.96,625.81 A1.01,1.01 0 1 0 365.97,627.57 L368.55,625.26 Z"/>
<path d="M368.55,624.74 L365.97,622.43 A1.01,1.01 0 1 0 364.96,624.19 L368.25,625.26 Z"/>
</g>
<line x1="384.5" y1="665.2" x2="384.5" y2="662.6" stroke="#404040" stroke-width="1"/>
<text transform="translate(421.49,510.80) scale(0.7367,1.0465)" font-size="22.50" font-weight="bold" fill="#000" stroke="#000" stroke-width="0.6" stroke-linejoin="round">E</text>
<line x1="455.5" y1="544.7" x2="455.5" y2="676.8" stroke="#404040" stroke-width="1"/>
<line x1="452.0" y1="676.5" x2="455.5" y2="676.5" stroke="#404040" stroke-width="1"/>
<text transform="translate(438.88,679.06) scale(1.0665,1)" font-size="10.20" font-weight="normal" fill="#000" stroke="#000" stroke-width="0.2">0</text>
<line x1="452.0" y1="654.5" x2="455.5" y2="654.5" stroke="#404040" stroke-width="1"/>
<text transform="translate(428.51,657.21) scale(0.9623,1)" font-size="10.20" font-weight="normal" fill="#000" stroke="#000" stroke-width="0.2">200</text>
<line x1="452.0" y1="632.5" x2="455.5" y2="632.5" stroke="#404040" stroke-width="1"/>
<text transform="translate(428.78,635.36) scale(0.9459,1)" font-size="10.20" font-weight="normal" fill="#000" stroke="#000" stroke-width="0.2">400</text>
<line x1="452.0" y1="610.5" x2="455.5" y2="610.5" stroke="#404040" stroke-width="1"/>
<text transform="translate(428.50,613.51) scale(0.9626,1)" font-size="10.20" font-weight="normal" fill="#000" stroke="#000" stroke-width="0.2">600</text>
<line x1="452.0" y1="588.5" x2="455.5" y2="588.5" stroke="#404040" stroke-width="1"/>
<text transform="translate(428.58,591.66) scale(0.9582,1)" font-size="10.20" font-weight="normal" fill="#000" stroke="#000" stroke-width="0.2">800</text>
<line x1="452.0" y1="567.5" x2="455.5" y2="567.5" stroke="#404040" stroke-width="1"/>
<text transform="translate(421.49,569.81) scale(0.9158,1)" font-size="10.20" font-weight="normal" fill="#000" stroke="#000" stroke-width="0.2">1,000</text>
<line x1="452.0" y1="545.5" x2="455.5" y2="545.5" stroke="#404040" stroke-width="1"/>
<text transform="translate(421.49,547.96) scale(0.9158,1)" font-size="10.20" font-weight="normal" fill="#000" stroke="#000" stroke-width="0.2">1,200</text>
<line x1="455.0" y1="676.3" x2="526.5" y2="676.3" stroke="#404040" stroke-width="1"/>
<line x1="526.5" y1="676.3" x2="526.5" y2="673.3" stroke="#404040" stroke-width="1"/>
<rect x="460.50" y="675.50" width="27.00" height="0.80" fill="#0033FF" stroke="#000" stroke-width="0.9"/>
<rect x="495.50" y="589.50" width="25.00" height="86.80" fill="#FF0000" stroke="#000" stroke-width="0.9"/>
<line x1="507.5" y1="589.7" x2="507.5" y2="563.5" stroke="#000" stroke-width="0.9"/>
<line x1="505.5" y1="563.5" x2="509.5" y2="563.5" stroke="#000" stroke-width="0.9"/>
<g fill="#000">
<path d="M508.60,552.20 L509.18,549.18 A0.88,0.88 0 1 0 507.42,549.18 L508.00,552.20 Z"/>
<path d="M508.45,552.46 L511.35,551.46 A0.88,0.88 0 1 0 510.47,549.93 L508.15,551.94 Z"/>
<path d="M508.15,552.46 L510.47,554.47 A0.88,0.88 0 1 0 511.35,552.94 L508.45,551.94 Z"/>
<path d="M508.00,552.20 L507.42,555.22 A0.88,0.88 0 1 0 509.18,555.22 L508.60,552.20 Z"/>
<path d="M508.15,551.94 L505.25,552.94 A0.88,0.88 0 1 0 506.13,554.47 L508.45,552.46 Z"/>
<path d="M508.45,551.94 L506.13,549.93 A0.88,0.88 0 1 0 505.25,551.46 L508.15,552.46 Z"/>
</g>
<path d="M458.1,520.1 L461.1,520.1 L461.1,531.7 L463.4,531.7 L463.4,533.9 L454.9,533.9 L454.9,531.7 L458.1,531.7 L458.1,523.2 L455.4,524.4 L454.6,522.3 Z" fill="#000" stroke="#000" stroke-width="0.3" stroke-linejoin="round"/>
<text transform="translate(464.30,527.17) scale(0.8259,1.2226)" font-size="10.50" font-weight="bold" fill="#000" stroke="#000" stroke-width="0.3" stroke-linejoin="round">st</text>
<line x1="473.0" y1="528.4" x2="478.2" y2="518.4" stroke="#000" stroke-width="1.9"/>
<text transform="translate(479.09,534.00) scale(1.1854,1)" font-size="19.80" font-weight="bold" fill="#000" stroke="#000" stroke-width="0.6" stroke-linejoin="round">2</text>
<text transform="translate(491.46,527.18) scale(1.1595,1.0770)" font-size="11.00" font-weight="bold" fill="#000" stroke="#000" stroke-width="0.3" stroke-linejoin="round">nd</text>
<text transform="translate(510.89,534.00) scale(0.8296,1)" font-size="20.00" font-weight="bold" fill="#000" stroke="#000" stroke-width="0.6" stroke-linejoin="round">BAs</text>
<line x1="586.5" y1="545.3" x2="586.5" y2="676.7" stroke="#404040" stroke-width="1"/>
<line x1="583.9" y1="676.5" x2="586.5" y2="676.5" stroke="#404040" stroke-width="1"/>
<text transform="translate(570.76,679.03) scale(1.0862,1)" font-size="10.40" font-weight="normal" fill="#000" stroke="#000" stroke-width="0.2">0</text>
<line x1="583.9" y1="650.5" x2="586.5" y2="650.5" stroke="#404040" stroke-width="1"/>
<text transform="translate(559.82,652.95) scale(0.9905,1)" font-size="10.40" font-weight="normal" fill="#000" stroke="#000" stroke-width="0.2">100</text>
<line x1="583.9" y1="624.5" x2="586.5" y2="624.5" stroke="#404040" stroke-width="1"/>
<text transform="translate(560.09,626.87) scale(0.9743,1)" font-size="10.40" font-weight="normal" fill="#000" stroke="#000" stroke-width="0.2">200</text>
<line x1="583.9" y1="597.5" x2="586.5" y2="597.5" stroke="#404040" stroke-width="1"/>
<text transform="translate(560.22,600.79) scale(0.9668,1)" font-size="10.40" font-weight="normal" fill="#000" stroke="#000" stroke-width="0.2">300</text>
<line x1="583.9" y1="571.5" x2="586.5" y2="571.5" stroke="#404040" stroke-width="1"/>
<text transform="translate(560.37,574.71) scale(0.9577,1)" font-size="10.40" font-weight="normal" fill="#000" stroke="#000" stroke-width="0.2">400</text>
<line x1="583.9" y1="545.5" x2="586.5" y2="545.5" stroke="#404040" stroke-width="1"/>
<text transform="translate(560.20,548.63) scale(0.9680,1)" font-size="10.40" font-weight="normal" fill="#000" stroke="#000" stroke-width="0.2">500</text>
<line x1="586.9" y1="676.2" x2="654.5" y2="676.2" stroke="#404040" stroke-width="1"/>
<line x1="654.5" y1="676.2" x2="654.5" y2="673.2" stroke="#404040" stroke-width="1"/>
<rect x="593.50" y="671.50" width="25.00" height="4.70" fill="#0033FF" stroke="#000" stroke-width="0.9"/>
<line x1="605.5" y1="671.8" x2="605.5" y2="669.5" stroke="#000" stroke-width="0.9"/>
<line x1="603.7" y1="669.5" x2="607.3" y2="669.5" stroke="#000" stroke-width="0.9"/>
<rect x="624.50" y="605.50" width="25.00" height="70.70" fill="#FF0000" stroke="#000" stroke-width="0.9"/>
<line x1="636.5" y1="605.1" x2="636.5" y2="578.5" stroke="#000" stroke-width="0.9"/>
<line x1="634.5" y1="578.5" x2="638.5" y2="578.5" stroke="#000" stroke-width="0.9"/>
<g fill="#000">
<path d="M636.30,566.40 L636.88,563.18 A0.88,0.88 0 1 0 635.12,563.18 L635.70,566.40 Z"/>
<path d="M636.15,566.66 L639.23,565.56 A0.88,0.88 0 1 0 638.34,564.03 L635.85,566.14 Z"/>
<path d="M635.85,566.66 L638.34,568.77 A0.88,0.88 0 1 0 639.23,567.24 L636.15,566.14 Z"/>
<path d="M635.70,566.40 L635.12,569.62 A0.88,0.88 0 1 0 636.88,569.62 L636.30,566.40 Z"/>
<path d="M635.85,566.14 L632.77,567.24 A0.88,0.88 0 1 0 633.66,568.77 L636.15,566.66 Z"/>
<path d="M636.15,566.14 L633.66,564.03 A0.88,0.88 0 1 0 632.77,565.56 L635.85,566.66 Z"/>
</g>
<text transform="translate(588.10,534.00) scale(0.8570,1)" font-size="20.00" font-weight="bold" fill="#000" stroke="#000" stroke-width="0.6" stroke-linejoin="round">CA</text>
<text transform="translate(612.96,527.78) scale(0.9190,0.9761)" font-size="11.50" font-weight="bold" fill="#000" stroke="#000" stroke-width="0.45" stroke-linejoin="round">+</text>
<line x1="620.8" y1="535.8" x2="627.4" y2="518.8" stroke="#000" stroke-width="2.7"/>
<text transform="translate(628.99,534.00) scale(0.8631,1)" font-size="20.00" font-weight="bold" fill="#000" stroke="#000" stroke-width="0.6" stroke-linejoin="round">CDCA</text>
<text transform="translate(679.56,527.78) scale(0.9190,0.9761)" font-size="11.50" font-weight="bold" fill="#000" stroke="#000" stroke-width="0.45" stroke-linejoin="round">+</text>
</svg>
</body></html>
